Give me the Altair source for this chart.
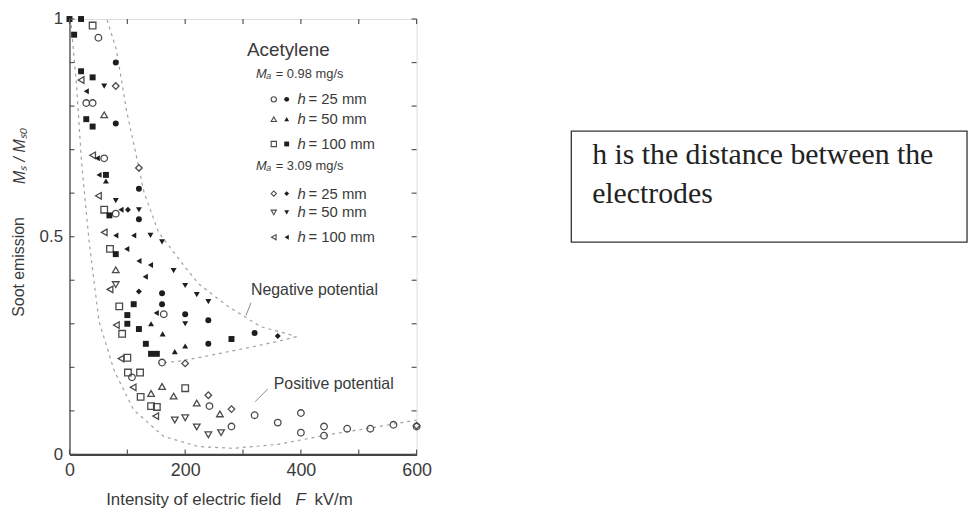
import altair as alt
import pandas as pd

# ---------------- data ----------------
# 0.98 mg/s, h = 25 mm (circles)
circ_pos_F = [50, 29, 40, 60, 80, 163, 160, 108, 242, 280, 320, 360, 400, 400, 440, 440, 480, 520, 560, 600]
circ_pos_M = [0.957, 0.807, 0.807, 0.68, 0.553, 0.322, 0.211, 0.177, 0.111, 0.064, 0.09, 0.073, 0.095, 0.05, 0.064, 0.043, 0.059, 0.059, 0.068, 0.064]
circ_neg_F = [80, 80, 120, 120, 160, 160, 200, 240, 240, 320]
circ_neg_M = [0.90, 0.76, 0.61, 0.54, 0.37, 0.345, 0.322, 0.308, 0.254, 0.279]
# 0.98 mg/s, h = 50 mm (triangles up)
tri_pos_F = [60, 80, 141, 160, 180, 220, 260]
tri_pos_M = [0.78, 0.424, 0.14, 0.156, 0.134, 0.118, 0.093]
tri_neg_F = [63, 141, 161, 182, 200]
tri_neg_M = [0.628, 0.30, 0.277, 0.236, 0.249]
# 0.98 mg/s, h = 100 mm (squares)
sq_pos_F = [40, 60, 70, 86, 91, 100, 101, 122, 123, 141, 151, 200]
sq_pos_M = [0.985, 0.562, 0.472, 0.34, 0.277, 0.222, 0.188, 0.188, 0.132, 0.111, 0.109, 0.152]
sq_neg_F = [0, 20, 8, 20, 40, 29, 40, 63, 69, 80, 111, 100, 100, 120, 132, 141, 151, 280]
sq_neg_M = [1.0, 1.0, 0.964, 0.88, 0.866, 0.77, 0.753, 0.642, 0.549, 0.46, 0.345, 0.32, 0.30, 0.288, 0.254, 0.231, 0.231, 0.265]
# 3.09 mg/s, h = 25 mm (diamonds)
dia_pos_F = [80, 120, 200, 240, 280, 600]
dia_pos_M = [0.846, 0.658, 0.209, 0.136, 0.104, 0.066]
dia_neg_F = [101, 120, 360]
dia_neg_M = [0.562, 0.374, 0.272]
# 3.09 mg/s, h = 50 mm (triangles down)
dtri_pos_F = [80, 182, 200, 220, 240, 262]
dtri_pos_M = [0.39, 0.079, 0.084, 0.063, 0.045, 0.05]
dtri_neg_F = [60, 80, 120, 140, 160, 180, 200, 220, 240, 200]
dtri_neg_M = [0.846, 0.583, 0.562, 0.503, 0.488, 0.422, 0.388, 0.367, 0.351, 0.30]
# 3.09 mg/s, h = 100 mm (triangles left)
ltri_pos_F = [20, 40, 50, 60, 70, 81, 89, 110, 149]
ltri_pos_M = [0.86, 0.687, 0.594, 0.51, 0.379, 0.297, 0.22, 0.154, 0.088]
ltri_neg_F = [29, 48, 51, 89, 80, 111, 99, 120, 140, 131, 150]
ltri_neg_M = [0.834, 0.68, 0.642, 0.562, 0.503, 0.503, 0.472, 0.444, 0.435, 0.408, 0.325]

# dashed envelopes
neg_env_F = [65, 81, 99, 111, 129, 154, 197, 223, 274, 331, 377, 391, 365, 309, 249, 194, 154]
neg_env_M = [0.998, 0.93, 0.787, 0.714, 0.601, 0.51, 0.435, 0.392, 0.34, 0.293, 0.277, 0.27, 0.261, 0.245, 0.229, 0.215, 0.209]
pos_env_F = [3, 12, 21, 34, 51, 77, 111, 163, 223, 283, 360, 446, 531, 600]
pos_env_M = [0.986, 0.85, 0.669, 0.488, 0.306, 0.193, 0.102, 0.041, 0.018, 0.014, 0.023, 0.045, 0.063, 0.079]

x_tick_vals = [0, 100, 200, 300, 400, 500, 600]
y_tick_vals = [0, 0.1, 0.2, 0.3, 0.4, 0.5, 0.6, 0.7, 0.8, 0.9, 1.0]
x_label_vals = [0, 200, 400, 600]
y_label_vals = [0, 0.5, 1]

# ---------------- build tables ----------------
series = [
    ("circle", False, circ_pos_F, circ_pos_M), ("circle", True, circ_neg_F, circ_neg_M),
    ("triangle-up", False, tri_pos_F, tri_pos_M), ("triangle-up", True, tri_neg_F, tri_neg_M),
    ("square", False, sq_pos_F, sq_pos_M), ("square", True, sq_neg_F, sq_neg_M),
    ("diamond", False, dia_pos_F, dia_pos_M), ("diamond", True, dia_neg_F, dia_neg_M),
    ("triangle-down", False, dtri_pos_F, dtri_pos_M), ("triangle-down", True, dtri_neg_F, dtri_neg_M),
    ("triangle-left", False, ltri_pos_F, ltri_pos_M), ("triangle-left", True, ltri_neg_F, ltri_neg_M),
]
rows = []
for shp, filled, Fs, Ms in series:
    for f, m in zip(Fs, Ms):
        rows.append({"F": f, "M": m, "shape": shp, "filled": filled})
pts = pd.DataFrame(rows)
open_df = pts[~pts["filled"]]
fill_df = pts[pts["filled"]]

env_rows = []
for name, Fs, Ms in [("neg", neg_env_F, neg_env_M), ("pos", pos_env_F, pos_env_M)]:
    for i, (f, m) in enumerate(zip(Fs, Ms)):
        env_rows.append({"curve": name, "i": i, "F": f, "M": m})
env = pd.DataFrame(env_rows)

W, H = 350, 439
TOP = 9          # plot top at 8 + 9 = 17 px
DY = TOP - 6     # shift for annotations laid out for a top padding of 6
SANS = "Liberation Sans"
SERIF = "Liberation Serif"
TXT = "#3a3a3a"

xs = alt.Scale(domain=[0, 600], nice=False, zero=False)
ys = alt.Scale(domain=[0, 1], nice=False, zero=False)

x_axis = alt.Axis(values=x_label_vals, ticks=False, labelFontSize=18, labelColor=TXT,
                  labelPadding=7, labelFlush=False, domainColor="#444", domainWidth=2.2,
                  grid=False, title=None, format="d", labelFont=SANS)
y_axis = alt.Axis(values=y_label_vals, ticks=False, labelFontSize=17, labelColor=TXT,
                  labelPadding=7, labelFlush=False, domainColor="#555", domainWidth=1.4,
                  grid=False, title=None, format="~g", labelFont=SANS)

envelopes = alt.Chart(env).mark_line(strokeDash=[3, 4], color="#a0a0a0", strokeWidth=1.2).encode(
    x=alt.X("F:Q", scale=xs, axis=x_axis),
    y=alt.Y("M:Q", scale=ys, axis=y_axis),
    detail="curve:N",
    order="i:Q",
)

open_pts = alt.Chart(open_df).mark_point(filled=False, color="#4a4a4a", strokeWidth=1.3, size=44, opacity=1).encode(
    x=alt.X("F:Q", scale=xs), y=alt.Y("M:Q", scale=ys), shape=alt.Shape("shape:N", scale=None)
)
fill_pts = alt.Chart(fill_df).mark_point(filled=True, color="#1e1e1e", size=36, opacity=1).encode(
    x=alt.X("F:Q", scale=xs), y=alt.Y("M:Q", scale=ys), shape=alt.Shape("shape:N", scale=None)
)

xt = pd.DataFrame({"F": x_tick_vals})
yt = pd.DataFrame({"M": y_tick_vals})
tick_style = dict(color="#555", strokeWidth=1.2)
ticks = [
    alt.Chart(xt).mark_rule(**tick_style).encode(x=alt.X("F:Q", scale=xs), y=alt.value(H), y2=alt.value(H - 5)),
    alt.Chart(xt).mark_rule(**tick_style).encode(x=alt.X("F:Q", scale=xs), y=alt.value(0), y2=alt.value(5)),
    alt.Chart(yt).mark_rule(**tick_style).encode(y=alt.Y("M:Q", scale=ys), x=alt.value(0), x2=alt.value(5)),
    alt.Chart(yt).mark_rule(**tick_style).encode(y=alt.Y("M:Q", scale=ys), x=alt.value(W), x2=alt.value(W - 5)),
]

one = alt.Data(values=[{"k": 1}])


def txt(s, x, y, size=15, italic=False, align="left", angle=0, font=SANS, color=TXT, baseline="middle"):
    return alt.Chart(one).mark_text(
        text=s, align=align, baseline=baseline, fontSize=size,
        fontStyle="italic" if italic else "normal", font=font, color=color, angle=angle,
    ).encode(x=alt.value(x), y=alt.value(y - DY))


def sym(shape, filled, x, y):
    if filled:
        m = alt.Chart(one).mark_point(shape=shape, filled=True, color="#1e1e1e", size=24, opacity=1)
    else:
        m = alt.Chart(one).mark_point(shape=shape, filled=False, color="#4a4a4a", strokeWidth=1.1, size=28, opacity=1)
    return m.encode(x=alt.value(x), y=alt.value(y - DY))


def seg(x1, y1, x2, y2, color="#8a8a8a", width=1):
    return alt.Chart(one).mark_rule(color=color, strokeWidth=width).encode(
        x=alt.value(x1), y=alt.value(y1 - DY), x2=alt.value(x2), y2=alt.value(y2 - DY))


legend_layers = [txt("Acetylene", 179, 34, size=19)]
legend_layers += [txt("Mₐ", 188, 58, size=13, italic=True), txt("= 0.98 mg/s", 208, 58, size=13)]
legend_layers += [txt("Mₐ", 188, 151, size=13, italic=True), txt("= 3.09 mg/s", 208, 151, size=13)]
rows_a = [("circle", "= 25  mm", 84), ("triangle-up", "= 50  mm", 104), ("square", "= 100  mm", 129)]
rows_b = [("diamond", "= 25  mm", 179), ("triangle-down", "= 50  mm", 198), ("triangle-left", "= 100  mm", 223)]
for shp, lab, yy in rows_a + rows_b:
    legend_layers += [sym(shp, False, 206, yy), sym(shp, True, 219, yy),
                      txt("h", 230, yy, size=15, italic=True), txt(lab, 241, yy, size=15)]

annot = [
    txt("Negative potential", 183, 276, size=16),
    txt("Positive potential", 206, 371, size=16),
    seg(183, 289, 178, 302),
    seg(200, 376, 187, 389),
]

titles = [
    txt("Soot emission", -51, 253, size=16, angle=270, align="center"),
    txt("Mₛ / Mₛ₀", -50, 141, size=16, angle=270, align="center", italic=True),
    txt("Intensity of electric field", 37, 488, size=17),
    txt("F", 228, 488, size=17, italic=True),
    txt("kV/m", 247, 488, size=17),
]

box = [
    alt.Chart(one).mark_rect(fill="white", stroke="#333", strokeWidth=1.3).encode(
        x=alt.value(506), x2=alt.value(905), y=alt.value(116 - DY), y2=alt.value(228 - DY)),
    txt("h is the distance between the", 527, 149, size=30, font=SERIF, color="#222", baseline="alphabetic"),
    txt("electrodes", 527, 189, size=30, font=SERIF, color="#222", baseline="alphabetic"),
]

chart = alt.layer(
    envelopes, open_pts, fill_pts, *ticks, *legend_layers, *annot, *titles, *box
).properties(
    width=W, height=H,
    autosize=alt.AutoSizeParams(type="none"),
    padding={"left": 62, "top": TOP, "right": 558, "bottom": 60},
    background="white",
).configure_view(
    stroke="#555", strokeWidth=1.2
).configure(font=SANS)

chart.save("out.html", embed_options={"renderer": "svg", "actions": False})
